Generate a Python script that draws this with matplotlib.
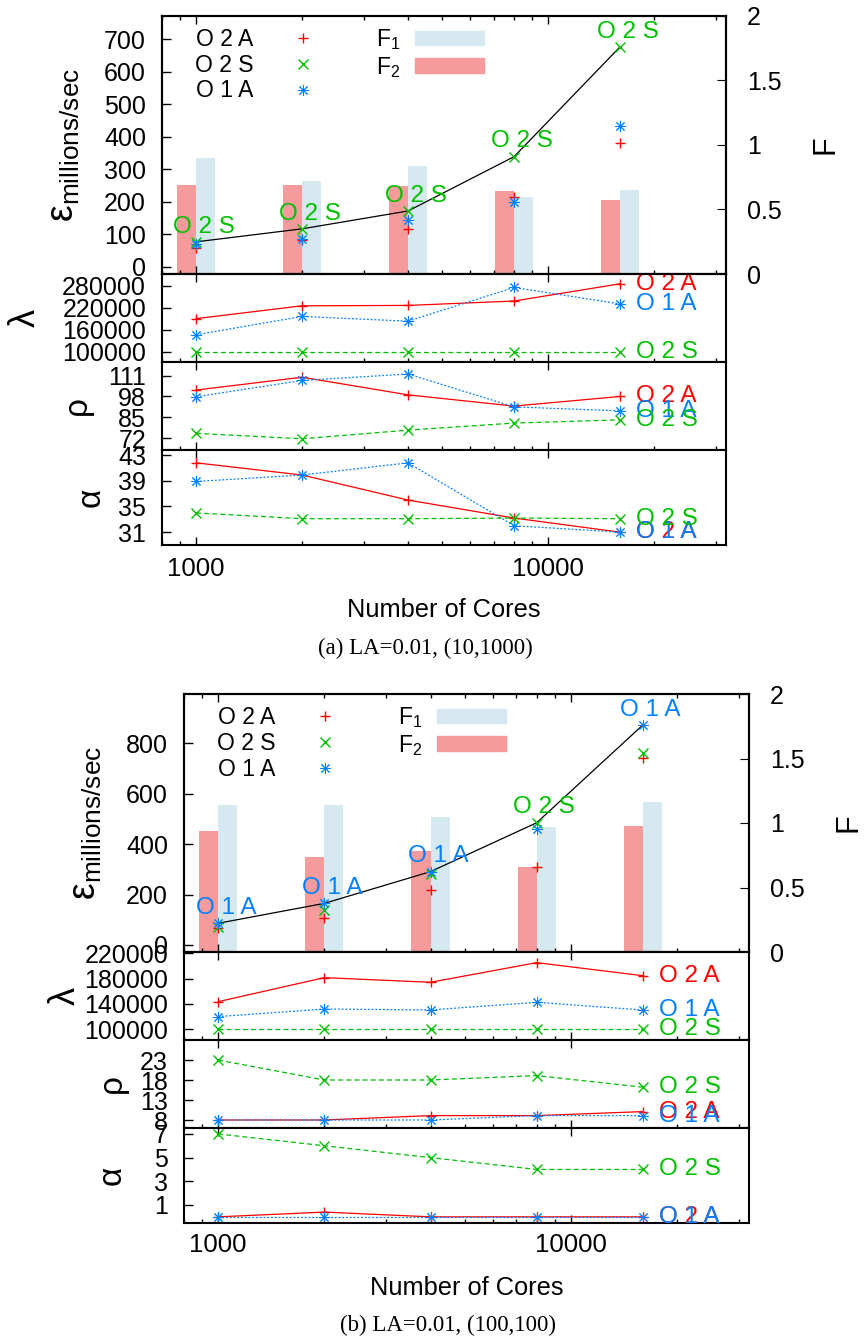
import numpy as np
import matplotlib.pyplot as plt
from matplotlib.patches import Patch
from matplotlib.ticker import NullFormatter

plt.rcParams['font.family'] = ['Liberation Sans', 'DejaVu Sans']
plt.rcParams['mathtext.fontset'] = 'custom'
plt.rcParams['mathtext.rm'] = 'Liberation Sans'
plt.rcParams['mathtext.it'] = 'Liberation Sans:italic'
plt.rcParams['mathtext.bf'] = 'Liberation Sans:bold'

# ---- data ----
cores = [1000, 2000, 4000, 8000, 16000]
names = ['O 2 A', 'O 2 S', 'O 1 A']

# (a) LA=0.01, (10,1000)
eps_a_o2a = [58, 83, 117, 216, 382]
eps_a_o2s = [77, 117, 172, 339, 677]
eps_a_o1a = [71, 86, 145, 200, 434]
F1_a = [0.90, 0.72, 0.84, 0.60, 0.65]
F2_a = [0.69, 0.69, 0.68, 0.64, 0.57]
lam_a_o2a = [191000, 226000, 227000, 239000, 286000]
lam_a_o2s = [100000, 100000, 100000, 100000, 100000]
lam_a_o1a = [147000, 197000, 184000, 276000, 231000]
rho_a_o2a = [102, 110, 99, 92, 98]
rho_a_o2s = [75, 71.6, 77, 81.4, 83.4]
rho_a_o1a = [97.8, 108, 112, 91.5, 89]
alpha_a_o2a = [41.8, 39.9, 36.0, 33.2, 31.0]
alpha_a_o2s = [34.0, 33.1, 33.1, 33.2, 33.1]
alpha_a_o1a = [38.9, 39.9, 41.8, 32.0, 31.0]

# (b) LA=0.01, (100,100)
eps_b_o2a = [66, 106, 218, 311, 743]
eps_b_o2s = [73, 139, 280, 485, 761]
eps_b_o1a = [86, 165, 291, 460, 873]
F1_b = [1.14, 1.14, 1.05, 0.97, 1.16]
F2_b = [0.94, 0.74, 0.78, 0.66, 0.98]
lam_b_o2a = [143600, 181500, 174200, 205200, 184600]
lam_b_o2s = [100000, 100000, 100000, 100000, 100000]
lam_b_o1a = [120000, 132000, 130500, 142600, 130500]
rho_b_o2a = [8, 8, 9.1, 9.1, 10.1]
rho_b_o2s = [23, 18, 18, 19.1, 16.2]
rho_b_o1a = [8, 8, 8, 9.1, 9.1]
alpha_b_o2a = [0, 0.4, 0, 0, 0]
alpha_b_o2s = [7, 6, 5, 4, 4]
alpha_b_o1a = [0, 0, 0, 0, 0]

eps_ticks_a = [0, 100, 200, 300, 400, 500, 600, 700]
eps_ticks_b = [0, 200, 400, 600, 800]
lam_ticks_a = [100000, 160000, 220000, 280000]
lam_ticks_b = [100000, 140000, 180000, 220000]
rho_ticks_a = [72, 85, 98, 111]
rho_ticks_b = [8, 13, 18, 23]
alpha_ticks_a = [31, 35, 39, 43]
alpha_ticks_b = [1, 3, 5, 7]
F_ticks = [0, 0.5, 1, 1.5, 2]
F_tick_labels = ['0', '0.5', '1', '1.5', '2']
x_ticks = [1000, 10000]
x_tick_labels = ['1000', '10000']

# ---- style ----
RED, GREEN, BLUE = '#ff0000', '#00c000', '#0080ff'
SALMON, LIGHTBLUE = '#f59b9b', '#d6e9f0'
colors = [RED, GREEN, BLUE]
markers = ['+', 'x', (8, 2, 0)]
msizes = [7, 7, 8]
mwidths = [1.0, 1.0, 0.7]
styles = ['-', (0, (4, 2.5)), (0, (1.5, 1.5))]
draw_order = [0, 2, 1]

W, H = 866, 1340
fig = plt.figure(figsize=(W / 100, H / 100), dpi=100)


def px_axes(l, t, r, b, **kw):
    return fig.add_axes([l / W, 1 - b / H, (r - l) / W, (b - t) / H], **kw)


def style_axes(a):
    for s in a.spines.values():
        s.set_linewidth(1.5)
    a.tick_params(axis='both', which='both', direction='in', width=1.0)
    a.tick_params(axis='x', which='major', length=5.8)
    a.tick_params(axis='x', which='minor', length=3.2)
    a.tick_params(axis='y', which='major', length=6.5, labelsize=18, pad=11.5,
                  left=True, right=False)


def draw_case(left, right, top, eps, F1, F2, eps_ylim, eps_ticks, subs,
              caption, cap_xy, tick_pad, xlabel_y):
    width = right - left
    ax = px_axes(left, top, right, top + 258)
    ax.set_xscale('log')
    ax.set_xlim(800, 32000)
    ax2 = ax.twinx()
    ax.set_zorder(ax2.get_zorder() + 1)
    ax.patch.set_visible(False)

    # F bars on the right axis
    x = np.array(cores, dtype=float)
    fac = 1.133
    ax2.bar(x / fac, F2, width=x - x / fac, align='edge', color=SALMON, lw=0)
    ax2.bar(x, F1, width=x * fac - x, align='edge', color=LIGHTBLUE, lw=0)
    ax2.set_ylim(0, 2)
    ax2.set_yticks(F_ticks, labels=F_tick_labels)
    ax2.tick_params(axis='y', direction='in', length=6.5, labelsize=18, pad=15,
                    right=True, left=False)
    for s in ax2.spines.values():
        s.set_linewidth(1.5)
    ax2.set_ylabel('F', fontsize=22, rotation=90)
    ax2.yaxis.set_label_coords(1.15, 0.5)

    # best-of line and points
    eps_arr = np.array(eps, dtype=float)
    best = eps_arr.max(axis=0)
    best_idx = eps_arr.argmax(axis=0)
    ax.plot(cores, best, color='black', lw=0.9, zorder=2)
    handles = []
    for k in range(3):
        h, = ax.plot(cores, eps[k], ls='none', marker=markers[k], color=colors[k],
                     ms=msizes[k], mew=mwidths[k], zorder=3)
        handles.append(h)
    for i, c in enumerate(cores):
        k = best_idx[i]
        ax.annotate(names[k], (c, best[i]), xytext=(5.5, 11), textcoords='offset points',
                    ha='center', va='center', color=colors[k], fontsize=17.5)

    ax.set_ylim(*eps_ylim)
    ax.set_yticks(eps_ticks)
    style_axes(ax)
    ax.tick_params(axis='x', which='both', top=True, bottom=True, labelbottom=False)
    ax.xaxis.set_minor_formatter(NullFormatter())
    ax.set_ylabel(r'$\mathrm{\varepsilon}_{\mathrm{millions/sec}}$', fontsize=27)
    ax.yaxis.set_label_coords(-0.142, 0.5)

    leg_handles = handles + [Patch(color=LIGHTBLUE), Patch(color=SALMON)]
    leg_labels = names + [r'F$_1$', r'F$_2$']
    ax.legend(leg_handles, leg_labels, ncol=2, loc='upper left',
              bbox_to_anchor=(33 / width, 1 - 11 / 258), frameon=False,
              markerfirst=False, fontsize=16.5, handlelength=3.0, handleheight=0.6,
              handletextpad=0.65, columnspacing=1.7, labelspacing=0.12,
              borderpad=0, borderaxespad=0, numpoints=1)

    # lambda / rho / alpha panels
    edges = [top + 258, top + 346, top + 434, top + 529]
    sub_axes = []
    for j, (vals, ylim, yticks, ylab, lsize, lx) in enumerate(subs):
        sa = px_axes(left, edges[j], right, edges[j + 1], sharex=ax)
        for k in draw_order:
            sa.plot(cores, vals[k], color=colors[k], marker=markers[k], ls=styles[k],
                    lw=0.9, ms=msizes[k], mew=mwidths[k])
        for k in draw_order:
            sa.annotate(names[k], (cores[-1], vals[k][-1]), xytext=(11.5, 0),
                        textcoords='offset points', ha='left', va='center',
                        color=colors[k], fontsize=17.5)
        sa.set_ylim(*ylim)
        sa.set_yticks(yticks)
        style_axes(sa)
        sa.tick_params(axis='x', which='major', top=True, bottom=True)
        sa.tick_params(axis='x', which='minor', top=False, bottom=True)
        sa.tick_params(axis='x', labelbottom=False)
        sa.set_ylabel(ylab, fontsize=lsize)
        sa.yaxis.set_label_coords(lx, 0.5)
        sub_axes.append(sa)

    bottom_ax = sub_axes[-1]
    bottom_ax.set_xticks(x_ticks, labels=x_tick_labels)
    bottom_ax.xaxis.set_minor_formatter(NullFormatter())
    bottom_ax.tick_params(axis='x', labelbottom=True, labelsize=18.5, pad=tick_pad)
    bottom_ax.set_xlabel('Number of Cores', fontsize=18.3)
    bottom_ax.xaxis.set_label_coords(0.5, xlabel_y)

    fig.text(cap_xy[0] / W, 1 - cap_xy[1] / H, caption,
             family=['Liberation Serif', 'DejaVu Serif'], fontsize=16.5,
             ha='center', va='center')


subs_a = [
    ([lam_a_o2a, lam_a_o2s, lam_a_o1a], (72700, 312700), lam_ticks_a, 'λ', 26, -0.212),
    ([rho_a_o2a, rho_a_o2s, rho_a_o1a], (64.6, 119.5), rho_ticks_a, 'ρ', 24, -0.122),
    ([alpha_a_o2a, alpha_a_o2s, alpha_a_o1a], (29.0, 43.8), alpha_ticks_a, 'α', 24, -0.098),
]
draw_case(162, 726, 16, [eps_a_o2a, eps_a_o2s, eps_a_o1a], F1_a, F2_a,
          (-22, 772), eps_ticks_a, subs_a, '(a) LA=0.01, (10,1000)', (425, 648),
          8.5, -53 / 95)

subs_b = [
    ([lam_b_o2a, lam_b_o2s, lam_b_o1a], (83100, 222000), lam_ticks_b, 'λ', 26, -0.18),
    ([rho_b_o2a, rho_b_o2s, rho_b_o1a], (6, 28), rho_ticks_b, 'ρ', 24, -0.1),
    ([alpha_b_o2a, alpha_b_o2s, alpha_b_o1a], (-0.52, 7.5), alpha_ticks_b, 'α', 24, -0.1),
]
draw_case(184, 749, 694, [eps_b_o2a, eps_b_o2s, eps_b_o1a], F1_b, F2_b,
          (-28, 996), eps_ticks_b, subs_b, '(b) LA=0.01, (100,100)', (448, 1325),
          7.5, -53 / 95)

fig.savefig('out.png', dpi=100)
